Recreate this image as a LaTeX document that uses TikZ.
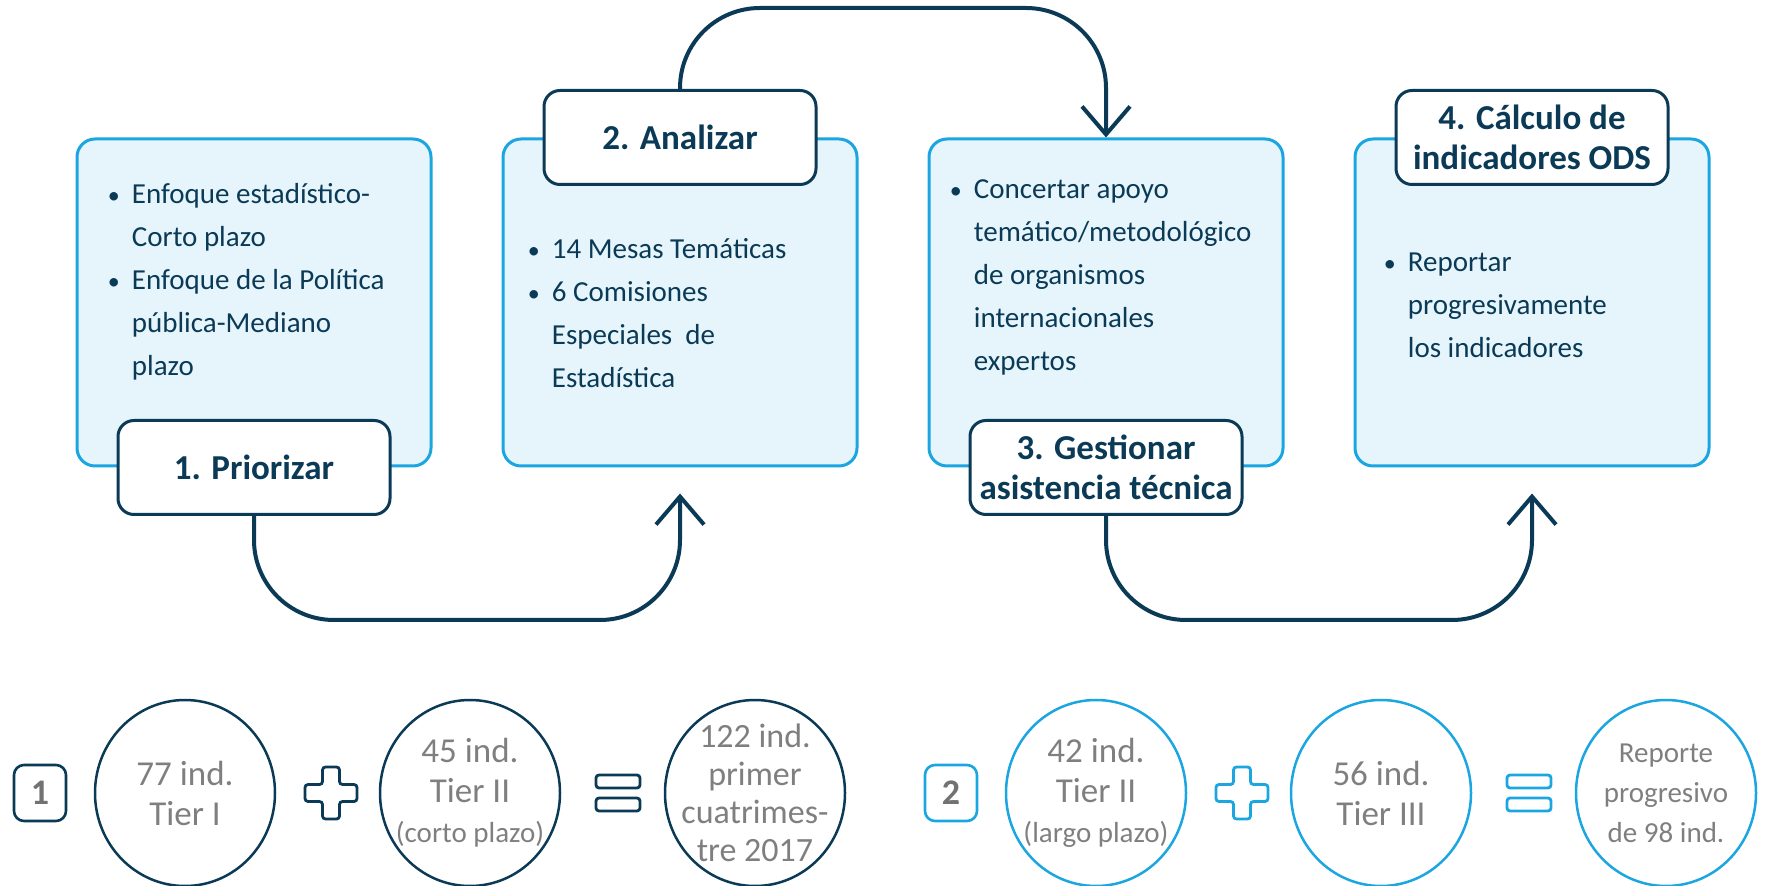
\documentclass[tikz,border=0pt]{standalone}
\usepackage{fontspec}
\setmainfont{Carlito}
\usetikzlibrary{positioning, shapes.geometric, arrows.meta}

\definecolor{navy}{HTML}{0B3A56}
\definecolor{sky}{HTML}{1BA6E1}
\definecolor{skyfill}{HTML}{E6F5FC}
\definecolor{greytext}{HTML}{7F7F7F}

\newcommand{\itm}{\makebox[12pt][l]{\fontsize{12}{12}\selectfont\textbullet}}
\newcommand{\ind}{\hspace*{12pt}}

\tikzset{
    pics/plussign/.style={code={
        \draw[pic actions] (-4.25pt,13pt) -- (4.25pt,13pt) -- (4.25pt,4.25pt) -- (13pt,4.25pt) -- (13pt,-4.25pt) -- (4.25pt,-4.25pt) -- (4.25pt,-13pt) -- (-4.25pt,-13pt) -- (-4.25pt,-4.25pt) -- (-13pt,-4.25pt) -- (-13pt,4.25pt) -- (-4.25pt,4.25pt) -- cycle;
    }},
    pics/equalsign/.style={code={
        \draw[pic actions] (-11pt,2.5pt) rectangle (11pt,9pt);
        \draw[pic actions] (-11pt,-2.5pt) rectangle (11pt,-9pt);
    }}
}

\begin{document}
\begin{tikzpicture}[
    panel/.style={draw=sky, fill=skyfill, line width=1.5pt, rounded corners=9pt, minimum width=177pt, minimum height=163.5pt, inner sep=0pt},
    stage/.style={draw=navy, fill=white, line width=1.5pt, rounded corners=8pt, minimum width=136pt, minimum height=47pt, inner sep=2pt, text=navy, align=center, font=\fontsize{17.5}{20}\selectfont\bfseries},
    body/.style={inner sep=0pt, text=navy, align=left, font=\fontsize{14.5}{21.5}\selectfont},
    flow/.style={draw=navy, line width=2pt, rounded corners=40pt, -{Straight Barb[length=14pt, width=24pt]}},
    tag/.style={on grid, draw, line width=1.3pt, rounded corners=5pt, minimum width=26pt, minimum height=28pt, inner sep=0pt, text=greytext!90!black, font=\fontsize{18}{18}\selectfont\bfseries},
    ring/.style={on grid, ellipse, draw, line width=1.25pt, minimum width=90pt, minimum height=93pt, inner sep=0pt},
    count/.style={text=greytext, align=center, inner sep=0pt, font=\fontsize{17.5}{20}\selectfont},
    small/.style={font=\fontsize{14.5}{20}\selectfont},
    sign/.style={line width=1.4pt, rounded corners=1.5pt, fill=white}
]
\useasboundingbox (0,0) rectangle (885.5pt,-443pt);

% panels
\node[panel] (b1) at (127pt,-151.25pt) {};
\node[panel, right=34.5pt of b1] (b2) {};
\node[panel, right=34.5pt of b2] (b3) {};
\node[panel, right=34.5pt of b3] (b4) {};

\node[body, below right=22.5pt and 16pt of b1.north west] (t1) {\itm Enfoque estadístico-\\\ind Corto plazo\\\itm Enfoque de la Política\\\ind pública-Mediano\\\ind plazo};
\node[body, below right=50.5pt and 13pt of b2.north west] (t2) {\itm 14 Mesas Temáticas\\\itm 6 Comisiones\\\ind Especiales\ \ de\\\ind Estadística};
\node[body, below right=21pt and 11pt of b3.north west] (t3) {\itm Concertar apoyo\\\ind temático/metodológico\\\ind de organismos\\\ind internacionales\\\ind expertos};
\node[body, below right=57.5pt and 15pt of b4.north west] (t4) {\itm Reportar\\\ind progresivamente\\\ind los indicadores};

% titles
\node[stage] (l1) at (b1.south) {1. Priorizar};
\node[stage] (l2) at (b2.north) {2. Analizar};
\node[stage] (l3) at (b3.south) {3. Gestionar\\asistencia técnica};
\node[stage] (l4) at (b4.north) {4. Cálculo de\\indicadores ODS};

% arrows
\draw[flow] (l1.south) -- ++(0,-52pt) -| ([yshift=-13pt]b2.south);
\draw[flow] (l2.north) -- ++(0,40.5pt) -| (b3.north);
\draw[flow] (l3.south) -- ++(0,-52pt) -| ([yshift=-13pt]b4.south);

% first sum
\node[tag, draw=navy] (n1) at (20pt,-396.5pt) {1};
\node[ring, draw=navy, right=72.5pt of n1] (e1) {};
\node[ring, draw=navy, right=142.5pt of e1] (e2) {};
\node[ring, draw=navy, right=142.5pt of e2] (e3) {};
\pic[draw=navy, sign] at ([xshift=73pt]e1.center) {plussign};
\pic[draw=navy, sign] at ([xshift=74pt]e2.center) {equalsign};
\node[count] (c1) at (e1) {77 ind.\\Tier I};
\node[count] (c2) at (e2) {45 ind.\\Tier II\\{\fontsize{14.5}{20}\selectfont(corto plazo)}};
\node[count, font=\fontsize{17}{19}\selectfont] (c3) at (e3) {122 ind.\\primer\\cuatrimes-\\tre 2017};

% second sum
\node[tag, draw=sky, right=455.5pt of n1] (n2) {2};
\node[ring, draw=sky, right=72.5pt of n2] (e4) {};
\node[ring, draw=sky, right=142.5pt of e4] (e5) {};
\node[ring, draw=sky, right=142.5pt of e5] (e6) {};
\pic[draw=sky, sign] at ([xshift=73pt]e4.center) {plussign};
\pic[draw=sky, sign] at ([xshift=74pt]e5.center) {equalsign};
\node[count] (c4) at (e4) {42 ind.\\Tier II\\{\fontsize{14.5}{20}\selectfont(largo plazo)}};
\node[count] (c5) at (e5) {56 ind.\\Tier III};
\node[count, small] (c6) at (e6) {Reporte\\progresivo\\de 98 ind.};
\end{tikzpicture}
\end{document}
